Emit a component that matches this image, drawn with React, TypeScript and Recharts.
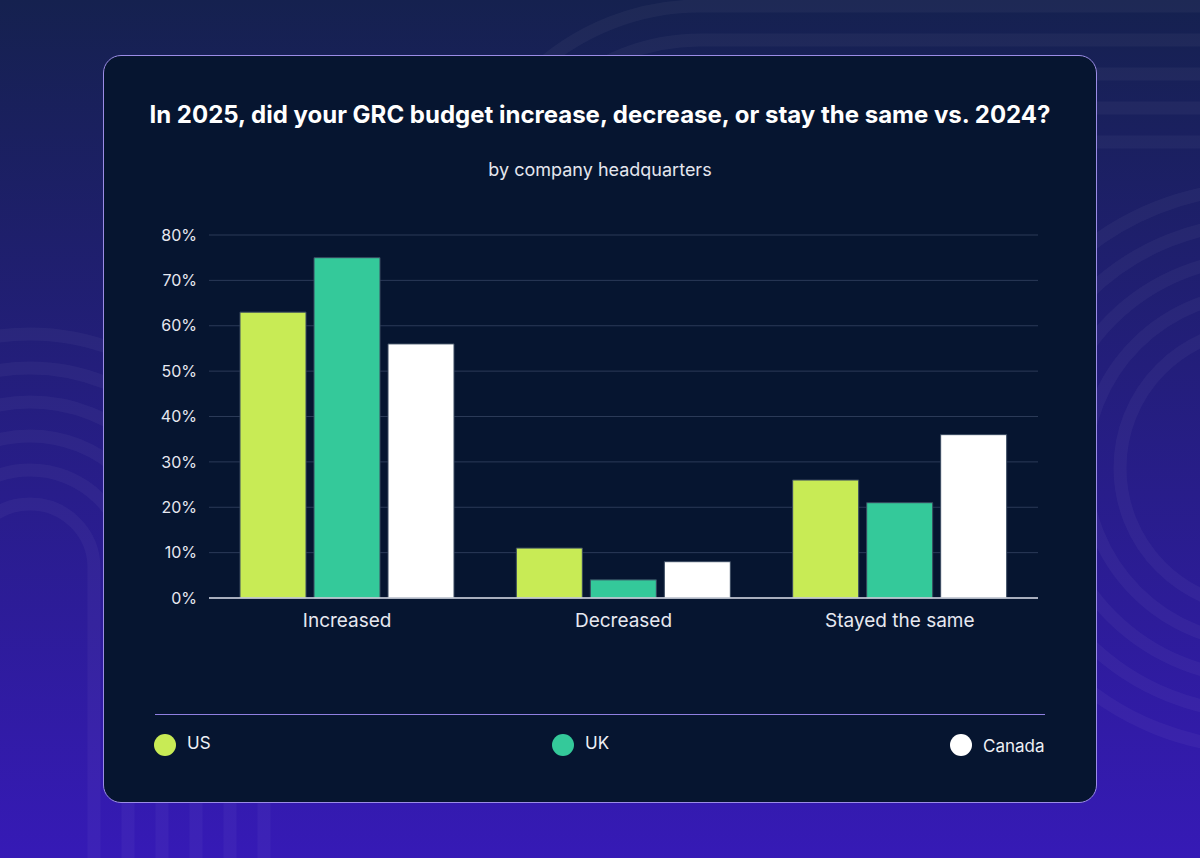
import React from "react";
import {
  BarChart,
  Bar,
  XAxis,
  YAxis,
  CartesianGrid,
} from "recharts";

const categories = ["Increased", "Decreased", "Stayed the same"];
const usValues = [63, 11, 26];
const ukValues = [75, 4, 21];
const canadaValues = [56, 8, 36];
const yTicks = [0, 10, 20, 30, 40, 50, 60, 70, 80];

const series = [
  { key: "US", values: usValues, color: "#c8eb55" },
  { key: "UK", values: ukValues, color: "#34c99a" },
  { key: "Canada", values: canadaValues, color: "#ffffff" },
];

const data = categories.map((name, i) => {
  const row: Record<string, string | number> = { name };
  series.forEach((s) => {
    row[s.key] = s.values[i];
  });
  return row;
});

const FONT = "Inter, 'Noto Sans', sans-serif";

function Backdrop() {
  const ring = "rgba(255,255,255,0.04)";
  const left = [64, 98, 132, 166, 200, 234];
  const top = [108, 142, 176, 210, 244];
  const right = [40, 75, 110, 145, 180];
  return (
    <svg width={1200} height={858} style={{ position: "absolute", left: 0, top: 0 }}>
      <defs>
        <linearGradient id="bg" x1="0" y1="0" x2="0" y2="1">
          <stop offset="0%" stopColor="#15214f" />
          <stop offset="100%" stopColor="#361ab6" />
        </linearGradient>
      </defs>
      <rect width={1200} height={858} fill="url(#bg)" />
      {left.map((r) => (
        <path
          key={"l" + r}
          d={`M ${30 - r} 900 L ${30 - r} 568 A ${r} ${r} 0 0 1 ${30 + r} 568 L ${30 + r} 900`}
          fill="none"
          stroke={ring}
          strokeWidth={13}
        />
      ))}
      {top.map((r) => (
        <path
          key={"t" + r}
          d={`M 1300 ${250 - r} L 700 ${250 - r} A ${r} ${r} 0 0 0 700 ${250 + r}`}
          fill="none"
          stroke={ring}
          strokeWidth={13}
        />
      ))}
      {right.map((r) => (
        <circle key={"r" + r} cx={1260} cy={468} r={r + 100} fill="none" stroke={ring} strokeWidth={13} />
      ))}
    </svg>
  );
}

export default function App() {
  return (
    <div style={{ position: "absolute", left: 0, top: 0, width: 1200, height: 858, overflow: "hidden", fontFamily: FONT }}>
      <Backdrop />
      <div
        style={{
          position: "absolute",
          left: 103,
          top: 55,
          width: 992,
          height: 746,
          background: "#061530",
          border: "1px solid #9b8ce6",
          borderRadius: 18,
        }}
      />
      <div
        style={{
          position: "absolute",
          left: 103,
          top: 100,
          width: 994,
          textAlign: "center",
          color: "#ffffff",
          fontWeight: 700,
          fontSize: 24,
        }}
      >
        In 2025, did your GRC budget increase, decrease, or stay the same vs. 2024?
      </div>
      <div
        style={{
          position: "absolute",
          left: 103,
          top: 159,
          width: 994,
          textAlign: "center",
          color: "#e4e6ee",
          fontSize: 18,
        }}
      >
        by company headquarters
      </div>

      <div style={{ position: "absolute", left: 150, top: 220 }}>
        <BarChart
          width={900}
          height={420}
          data={data}
          margin={{ top: 15, right: 12, bottom: 12, left: 1 }}
          barSize={66}
          barGap={8}
        >
          <CartesianGrid vertical={false} stroke="#2b3a57" />
          <XAxis
            dataKey="name"
            axisLine={{ stroke: "#d8dce6", strokeWidth: 1.5 }}
            tickLine={false}
            tickSize={0}
            tickMargin={16}
            height={30}
            tick={{ fill: "#e6e8f0", fontSize: 19, fontFamily: FONT }}
          />
          <YAxis
            domain={[0, 80]}
            ticks={yTicks}
            tickFormatter={(v: number) => `${v}%`}
            axisLine={false}
            tickLine={false}
            tickSize={0}
            tickMargin={12}
            width={58}
            tick={{ fill: "#e6e8f0", fontSize: 16, fontFamily: FONT }}
          />
          {series.map((s) => (
            <Bar
              key={s.key}
              dataKey={s.key}
              fill={s.color}
              stroke="#3a4a60"
              strokeWidth={1}
              isAnimationActive={false}
            />
          ))}
        </BarChart>
      </div>

      <div
        style={{
          position: "absolute",
          left: 155,
          top: 714,
          width: 890,
          height: 1,
          background: "#8f7fe0",
        }}
      />
      {series.map((s, i) => (
        <div
          key={s.key}
          style={{
            position: "absolute",
            left: 154 + i * 398,
            top: 734,
            display: "flex",
            alignItems: "center",
            color: "#eef0f6",
            fontSize: 17,
          }}
        >
          <span
            style={{
              width: 22,
              height: 22,
              borderRadius: 11,
              background: s.color,
              display: "inline-block",
              marginRight: 11,
            }}
          />
          <span style={{ marginTop: i === 2 ? 2 : -5 }}>{s.key}</span>
        </div>
      ))}
    </div>
  );
}
